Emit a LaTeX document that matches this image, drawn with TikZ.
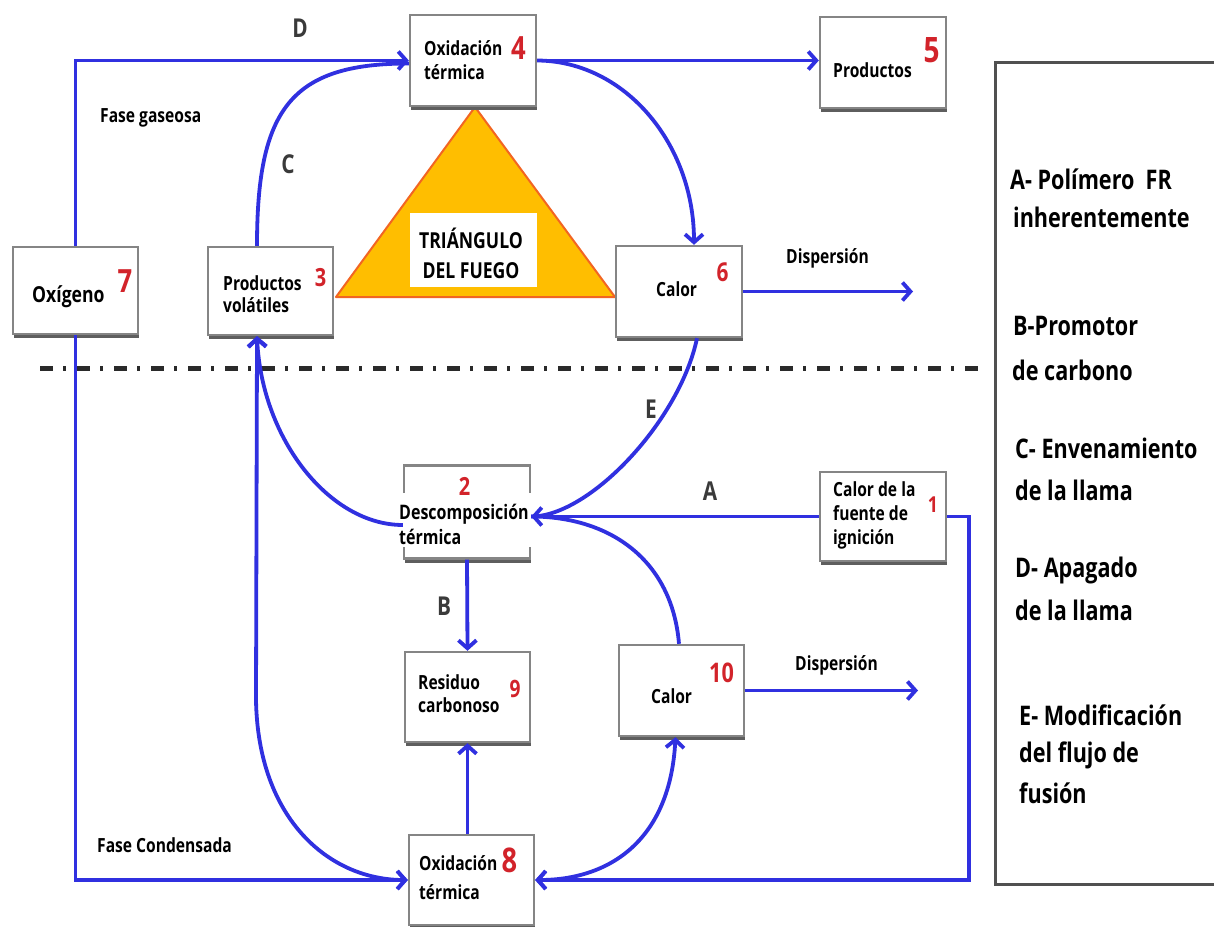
\documentclass[tikz,border=0pt]{standalone}
\usepackage{fontspec}
\setmainfont{Open Sans}[FakeStretch=0.8]
\usetikzlibrary{arrows.meta,shadows}
\definecolor{lineblue}{HTML}{3030E0}
\definecolor{boxgray}{HTML}{858585}
\definecolor{shadowgray}{HTML}{5E5E5E}
\definecolor{trifill}{HTML}{FFBE00}
\definecolor{triedge}{HTML}{F26522}
\definecolor{numred}{HTML}{D2232A}
\definecolor{lettergray}{HTML}{3A3A3A}
\definecolor{dashc}{HTML}{2A2A2A}
\definecolor{legendgray}{HTML}{505050}
\begin{document}
\begin{tikzpicture}[x=1pt,y=-1pt,
  ln/.style={draw=lineblue, line width=3.8pt},
  arr/.style={ln, -{Straight Barb[length=8pt,width=18pt]}},
  darr/.style={ln, {Straight Barb[length=8pt,width=18pt]}-{Straight Barb[length=8pt,width=18pt]}},
  box/.style={draw=boxgray, line width=2.4pt, fill=white, inner sep=0pt,
    minimum width=126pt, minimum height=91pt,
    drop shadow={shadow xshift=0.5pt, shadow yshift=-4pt, fill=shadowgray, opacity=1}},
  t/.style={font=\bfseries\fontsize{19.5}{24}\selectfont, inner sep=0pt, anchor=west, align=left},
  num/.style={font=\bfseries\fontsize{#1}{#1}\selectfont, text=numred, inner sep=0pt},
  lbl/.style={font=\bfseries\fontsize{26}{30}\selectfont, text=lettergray, inner sep=0pt},
  leg/.style={font=\bfseries\fontsize{27}{38}\selectfont, inner sep=0pt, anchor=west},
]
\clip (0,0) rectangle (1214,926);
\fill[white] (0,0) rectangle (1214,926);

% legend frame
\node[draw=legendgray, line width=2.5pt, anchor=north west, minimum width=260pt, minimum height=822pt, inner sep=0pt] (legend) at (994,61) {};

% phase separator
\draw[dashc, line width=5pt, dash pattern=on 13pt off 10pt on 3pt off 11pt] (40,368) -- (982,368);

% fire triangle
\coordinate (ta) at (475,107);
\coordinate (tl) at (336,297);
\coordinate (tr) at (615,297);
\filldraw[fill=trifill, draw=triedge, line width=2pt, line join=round] (ta) -- (tl) -- (tr) -- cycle;
\node[fill=white, inner sep=0pt, minimum width=127pt, minimum height=74pt] (tribox) at (473.5,250) {};

% boxes
\node[box] (b4) at (473,60.5) {};
\node[box] (b5) at (883,62.5) {};
\node[box] (b6) at (679,291.5) {};
\node[box, minimum width=125pt, minimum height=87pt] (b7) at (75.5,290.5) {};
\node[box, minimum width=125pt, minimum height=88pt] (b3) at (270.5,291) {};
\node[box, minimum height=93pt] (b2) at (467,512) {};
\node[box, minimum height=89pt] (b1) at (883,516.5) {};
\node[box, minimum width=125pt, minimum height=90pt] (b9) at (467.5,697) {};
\node[box, minimum width=125pt] (b10) at (681.5,690.5) {};
\node[box, minimum width=125pt, minimum height=90pt] (b8) at (471.5,880) {};
\node[fill=white, inner sep=0pt, minimum width=135pt, minimum height=54pt] (b2gap) at (465.5,520) {};

% free ends
\coordinate (disp1) at (913,291.5);
\coordinate (disp2) at (918,690.5);
\coordinate (r1) at (969,516.5);
\coordinate (v1) at (256,700);

% connectors
\draw[arr] (b7.north) |- (b4.west);
\draw[ln] ([xshift=-13.5pt]b3.north) .. controls (257,110) and (290,63.5) .. ([yshift=-3pt]b4.west);
\draw[arr] (b4.east) -- (b4.east -| b5.west);
\draw[arr] (b4.east) .. controls (625,61) and (694,144) .. ([xshift=15pt]b6.north);
\draw[arr] (b6.east) -- (disp1);
\draw[ln] ([xshift=18pt]b6.south) .. controls (680,420) and (590,516.5) .. (b1.west -| b2.east);
\draw[ln] ([xshift=-2.5pt]b10.north) .. controls (672,560) and (610,516.5) .. (b1.west -| b2.east);
\draw[arr] (b1.west) -- (b1.west -| b2.east);
\draw[arr] ([yshift=-13pt]b2.west) .. controls (330,525) and (262,440) .. ([xshift=-13.5pt]b3.south);
\draw[darr] ([xshift=-13.5pt]b3.south) -- (v1) .. controls (258,820) and (330,880) .. (b8.west);
\draw[arr] (b7.south) |- (b8.west);
\draw[arr] (b2.south) -- (b9.north);
\draw[arr] (b8.north -| b9.south) -- (b9.south);
\draw[darr] ([xshift=-6pt]b10.south) .. controls (670,840) and (610,880) .. (b8.east);
\draw[arr] (b1.east) -- (r1) |- (b8.east);
\draw[arr] (b10.east) -- (disp2);

% box texts
\node[t] (t4) at (424,60) {Oxidación\\térmica};
\node[num=32] (n4) at (518.5,48.5) {4};
\node[t] (t5) at (833,70) {Productos};
\node[num=35] (n5) at (931.5,50) {5};
\node[t] (t6) at (656,289) {Calor};
\node[num=26] (n6) at (722.5,272.5) {6};
\node[t, font=\bfseries\fontsize{22}{26}\selectfont] (t7) at (32,297) {Oxígeno};
\node[num=32] (n7) at (125,281.5) {7};
\node[t, font=\bfseries\fontsize{19.5}{22}\selectfont] (t3) at (223,294) {Productos\\volátiles};
\node[num=25] (n3) at (320.5,278) {3};
\node[font=\bfseries\fontsize{22}{30}\selectfont, align=center, inner sep=0pt] (ttri) at (471,253) {TRIÁNGULO\\DEL FUEGO};
\node[num=25] (n2) at (464.5,486) {2};
\node[t, font=\bfseries\fontsize{20}{25}\selectfont] (t2) at (399,524.5) {Descomposición\\térmica};
\node[t] (t1) at (833,515) {Calor de la\\fuente de\\ignición};
\node[num=22] (n1) at (933,505) {1};
\node[t, font=\bfseries\fontsize{19.5}{23}\selectfont] (t9) at (418,693.5) {Residuo\\carbonoso};
\node[num=24] (n9) at (515,688.5) {9};
\node[t] (t10) at (651,696) {Calor};
\node[num=27] (n10) at (721.5,673) {10};
\node[t, font=\bfseries\fontsize{19.5}{29}\selectfont] (t8) at (419,877.5) {Oxidación\\térmica};
\node[num=34] (n8) at (509.5,860.5) {8};

% free labels
\node[t] (dsp1) at (786,258) {Dispersión};
\node[t] (dsp2) at (795,665) {Dispersión};
\node[t] (fg) at (100,118) {Fase gaseosa};
\node[t] (fc) at (97,845) {Fase Condensada};
\node[lbl] (lD) at (300,28) {D};
\node[lbl] (lC) at (288,164) {C};
\node[lbl] (lE) at (651,409) {E};
\node[lbl] (lA) at (710,491) {A};
\node[lbl] (lB) at (444,606) {B};

% legend texts
\node[leg] (la1) at (1010,179) {A- Polímero\ \ FR};
\node[leg] (la2) at (1013,217) {inherentemente};
\node[leg] (lb1) at (1013,326) {B-Promotor};
\node[leg] (lb2) at (1012,370) {de carbono};
\node[leg] (lc1) at (1015,448) {C- Envenamiento};
\node[leg] (lc2) at (1015,490) {de la llama};
\node[leg] (ld1) at (1015,570) {D- Apagado};
\node[leg] (ld2) at (1015,610) {de la llama};
\node[leg] (le1) at (1019,715) {E- Modificación};
\node[leg] (le2) at (1019,755) {del flujo de};
\node[leg] (le3) at (1019,793) {fusión};
\end{tikzpicture}
\end{document}
